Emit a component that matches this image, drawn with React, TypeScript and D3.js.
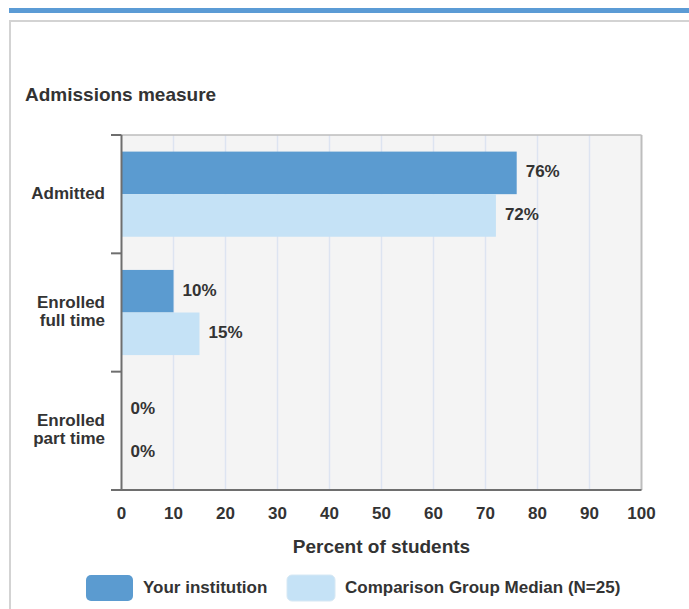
import React from "react";
import * as d3 from "d3";

const categories = ["Admitted", "Enrolled full time", "Enrolled part time"];
const categoryLines = [["Admitted"], ["Enrolled", "full time"], ["Enrolled", "part time"]];
const seriesNames = ["Your institution", "Comparison Group Median (N=25)"];
const yourInstitution = [76, 10, 0];
const comparisonMedian = [72, 15, 0];
const xTicks = [0, 10, 20, 30, 40, 50, 60, 70, 80, 90, 100];

const W = 689;
const H = 609;
const DARK = "#5b9bd0";
const LIGHT = "#c5e2f6";
const TEXT = "#333333";
const FONT = "'Liberation Sans', Arial, Helvetica, sans-serif";
const SMALL = 17;
const BIG = 19;

export default function App() {
  const x = d3.scaleLinear().domain([0, 100]).range([121.5, 641.5]);
  const y = d3.scaleBand().domain(categories).range([135, 490]);
  const inner = d3
    .scaleBand()
    .domain(["a", "b"])
    .range([0, y.bandwidth()])
    .paddingOuter(0.39);
  const series = [
    { key: "a", values: yourInstitution, color: DARK },
    { key: "b", values: comparisonMedian, color: LIGHT },
  ];
  const [x0, x1] = x.range();
  const [y0, y1] = y.range();
  const boundaries = [y0, ...categories.map((c) => (y(c) as number) + y.bandwidth())];

  return (
    <svg
      width={W}
      height={H}
      style={{ position: "absolute", left: 0, top: 0, fontFamily: FONT }}
    >
      <rect x={0} y={0} width={W} height={H} fill="#ffffff" />
      {/* page chrome */}
      <rect x={9} y={8} width={W - 9} height={5} fill="#5b9bd5" />
      <rect x={9} y={20} width={W - 9} height={2} fill="#d3d3d3" />
      <rect x={9} y={20} width={2} height={H - 20} fill="#d3d3d3" />

      <text x={25} y={96} fontSize={BIG} fontWeight="bold" fill={TEXT} dominantBaseline="middle">
        Admissions measure
      </text>

      {/* plot background */}
      <rect x={x0} y={y0} width={x1 - x0} height={y1 - y0} fill="#f4f4f4" />
      {xTicks.slice(1, -1).map((t) => (
        <line key={t} x1={x(t)} x2={x(t)} y1={y0} y2={y1} stroke="#dde4f1" strokeWidth={1.5} />
      ))}
      <line x1={x0} x2={x1} y1={y0} y2={y0} stroke="#bdbdbd" strokeWidth={1.5} />
      <line x1={x1} x2={x1} y1={y0} y2={y1} stroke="#bdbdbd" strokeWidth={2} />

      {/* bars */}
      {categories.map((c, i) =>
        series.map((s) => {
          const v = s.values[i];
          const by = (y(c) as number) + (inner(s.key) as number);
          return (
            <g key={c + s.key}>
              <rect x={x(0)} y={by} width={x(v) - x(0)} height={inner.bandwidth()} fill={s.color} />
              <text
                x={x(v) + 9}
                y={by + inner.bandwidth() / 2}
                fontSize={SMALL}
                fontWeight="bold"
                fill={TEXT}
                dominantBaseline="middle"
              >
                {v}%
              </text>
            </g>
          );
        })
      )}

      {/* axes */}
      <line x1={x0} x2={x0} y1={y0} y2={y1} stroke="#6e6e6e" strokeWidth={2} />
      <line x1={111} x2={x1} y1={y1} y2={y1} stroke="#6e6e6e" strokeWidth={2} />
      {boundaries.map((b, i) => (
        <line key={i} x1={111} x2={x0} y1={b} y2={b} stroke="#6e6e6e" strokeWidth={2} />
      ))}

      {/* category labels */}
      {categories.map((c, i) => {
        const lines = categoryLines[i];
        const cy = (y(c) as number) + y.bandwidth() / 2;
        const lh = 18;
        return (
          <text key={c} textAnchor="end" fontSize={SMALL} fontWeight="bold" fill={TEXT}>
            {lines.map((l, j) => (
              <tspan
                key={j}
                x={105}
                y={cy + (j - (lines.length - 1) / 2) * lh}
                dominantBaseline="middle"
              >
                {l}
              </tspan>
            ))}
          </text>
        );
      })}

      {/* x tick labels */}
      {xTicks.map((t) => (
        <text
          key={t}
          x={x(t)}
          y={515}
          textAnchor="middle"
          fontSize={SMALL}
          fontWeight="bold"
          fill={TEXT}
          dominantBaseline="middle"
        >
          {t}
        </text>
      ))}
      <text
        x={(x0 + x1) / 2}
        y={548}
        textAnchor="middle"
        fontSize={BIG}
        fontWeight="bold"
        fill={TEXT}
        dominantBaseline="middle"
      >
        Percent of students
      </text>

      {/* legend */}
      <g>
        <rect x={86} y={575} width={47} height={26} rx={5} fill={DARK} />
        <text x={143} y={588.5} fontSize={SMALL} fontWeight="bold" fill={TEXT} dominantBaseline="middle">
          {seriesNames[0]}
        </text>
        <rect x={287} y={575} width={48} height={26} rx={5} fill={LIGHT} stroke="#d6e8f4" strokeWidth={1} />
        <text x={345} y={588.5} fontSize={SMALL} fontWeight="bold" fill={TEXT} dominantBaseline="middle">
          {seriesNames[1]}
        </text>
      </g>
    </svg>
  );
}
